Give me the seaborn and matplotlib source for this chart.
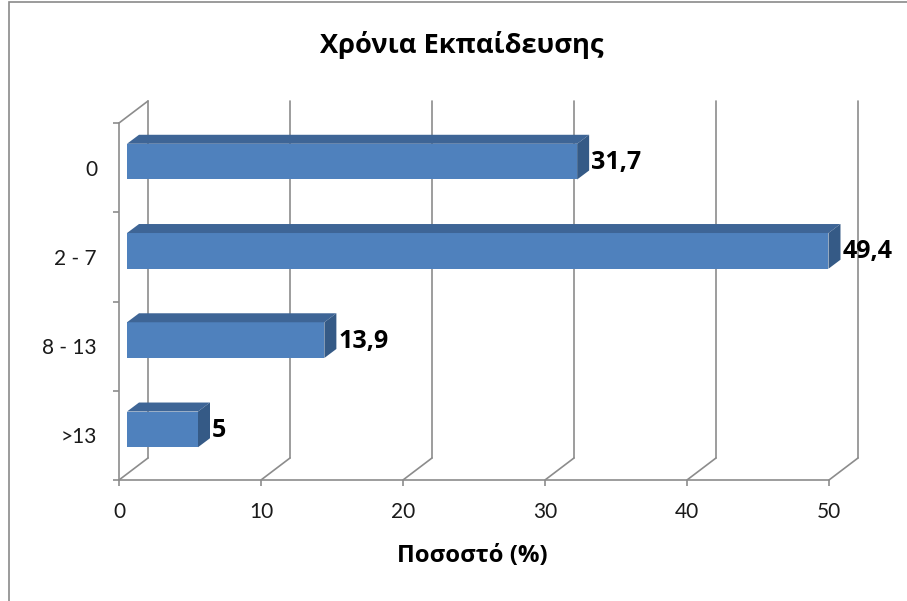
import matplotlib
matplotlib.use("Agg")
import matplotlib.pyplot as plt
import matplotlib.transforms as mtransforms
from matplotlib.patches import Polygon, Rectangle
from matplotlib.lines import Line2D
import seaborn as sns
import pandas as pd

# Data
categories = ["0", "2 - 7", "8 - 13", ">13"]
values = [31.7, 49.4, 13.9, 5.0]
value_labels = ["31,7", "49,4", "13,9", "5"]
x_ticks = [0, 10, 20, 30, 40, 50]

title = "Χρόνια Εκπαίδευσης"
x_label = "Ποσοστό (%)"

sns.set_theme(style="white")
plt.rcParams["font.family"] = ["Lato", "Open Sans", "DejaVu Sans"]
BOLD_FAMILY = ["Open Sans", "DejaVu Sans"]

FRONT = "#4F81BD"
TOP = "#3E6596"
SIDE = "#355A86"
GRID = "#8C8C8C"
TEXT = "#1A1A1A"

W, H = 907, 601
fig = plt.figure(figsize=(W / 100, H / 100), dpi=100)
fig.patch.set_facecolor("white")

# front plane of the 3-D box in pixels
left_px, right_px, top_px, bottom_px = 119, 829, 123, 480
ax = fig.add_axes([left_px / W, 1 - bottom_px / H,
                   (right_px - left_px) / W, (bottom_px - top_px) / H])

df = pd.DataFrame({"cat": categories, "val": values})
sns.barplot(data=df, x="val", y="cat", orient="h", width=0.4,
            color=FRONT, saturation=1, ax=ax, zorder=3, linewidth=0)

ax.set_xlim(0, 50)
ax.set_ylim(len(categories) - 0.5, -0.5)
for s in ax.spines.values():
    s.set_visible(False)
ax.set_xlabel("")
ax.set_ylabel("")

# depth of the box and of the bars (pixels, display coords)
DEPTH = (29, 22)
BAR_FRONT = (8, 6)
BAR_BACK = (20, 15)


def px(x, y, off=(0, 0)):
    p = ax.transData.transform((x, y))
    return (p[0] + off[0], p[1] + off[1])


ident = mtransforms.IdentityTransform()
ymin, ymax = len(categories) - 0.5, -0.5

# back wall vertical gridlines and floor diagonals
for v in x_ticks:
    ax.add_line(Line2D(*zip(px(v, ymin, DEPTH), px(v, ymax, DEPTH)),
                       transform=ident, color=GRID, lw=1.2, clip_on=False, zorder=1))
    ax.add_line(Line2D(*zip(px(v, ymin), px(v, ymin, DEPTH)),
                       transform=ident, color=GRID, lw=1.2, clip_on=False, zorder=1))
# left wall: front edge and top diagonal
ax.add_line(Line2D(*zip(px(0, ymin), px(0, ymax)), transform=ident,
                   color=GRID, lw=1.2, clip_on=False, zorder=1))
ax.add_line(Line2D(*zip(px(0, ymax), px(0, ymax, DEPTH)), transform=ident,
                   color=GRID, lw=1.2, clip_on=False, zorder=1))
# floor front edge
ax.add_line(Line2D(*zip(px(0, ymin), px(50, ymin)), transform=ident,
                   color=GRID, lw=1.2, clip_on=False, zorder=1))

# bars: shift front faces into depth and add top/side faces
shift = mtransforms.ScaledTranslation(BAR_FRONT[0] / 100, BAR_FRONT[1] / 100,
                                      fig.dpi_scale_trans)
for patch, lab in zip(ax.patches, value_labels):
    x0, y0 = patch.get_x(), patch.get_y()
    x1, y1 = x0 + patch.get_width(), y0 + patch.get_height()
    patch.set_transform(ax.transData + shift)
    patch.set_clip_on(False)
    top = [px(x0, y0, BAR_FRONT), px(x1, y0, BAR_FRONT),
           px(x1, y0, BAR_BACK), px(x0, y0, BAR_BACK)]
    side = [px(x1, y0, BAR_FRONT), px(x1, y1, BAR_FRONT),
            px(x1, y1, BAR_BACK), px(x1, y0, BAR_BACK)]
    ax.add_patch(Polygon(top, closed=True, transform=ident, facecolor=TOP,
                         edgecolor="none", clip_on=False, zorder=3))
    ax.add_patch(Polygon(side, closed=True, transform=ident, facecolor=SIDE,
                         edgecolor="none", clip_on=False, zorder=3))
    yc = (y0 + y1) / 2
    ax.annotate(lab, xy=(x1, yc), xytext=(22, 5), textcoords="offset pixels",
                ha="left", va="center", fontsize=18, fontweight="bold",
                family=BOLD_FAMILY, color="black", annotation_clip=False)

# ticks
ax.set_xticks(x_ticks)
ax.set_xticklabels([str(t) for t in x_ticks])
ax.set_yticks(range(len(categories)))
ax.set_yticklabels(categories)
ax.set_yticks([i - 0.5 for i in range(len(categories) + 1)], minor=True)
ax.tick_params(axis="x", which="major", length=4.5, width=1.2, color=GRID,
               direction="out", pad=11, labelsize=15, labelcolor=TEXT, bottom=True)
ax.tick_params(axis="y", which="major", length=0, pad=15.8, labelsize=15,
               labelcolor=TEXT, left=True)
ax.tick_params(axis="y", which="minor", length=4.5, width=1.2, color=GRID,
               direction="out", left=True)

fig.text(462 / W, 1 - 53 / H, title, ha="center", va="baseline",
         fontsize=19.6, fontweight="bold", family=BOLD_FAMILY, color="black")
fig.text(472 / W, 1 - 562 / H, x_label, ha="center", va="baseline",
         fontsize=17.2, fontweight="bold", family=BOLD_FAMILY, color="black")

# chart-area frame
fig.add_artist(Rectangle((9 / W, -0.05), 1.2, 1 - 2 / H + 0.05,
                         transform=fig.transFigure, fill=False,
                         edgecolor="#8A8A8A", lw=1.2))

fig.savefig("out.png", dpi=100)
